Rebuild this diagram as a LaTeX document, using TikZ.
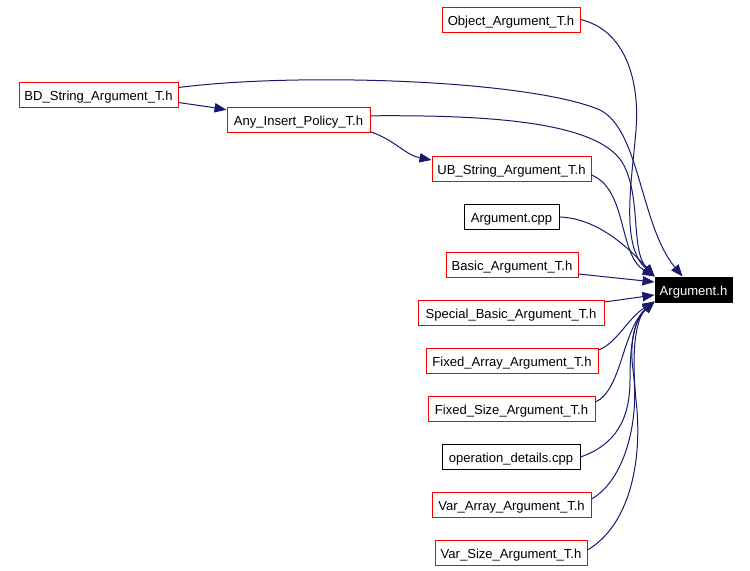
\documentclass[tikz,border=0pt]{standalone}
\usepackage{fontspec}
\setmainfont{Liberation Sans}
\usetikzlibrary{arrows.meta,calc}
\definecolor{edgeblue}{RGB}{25,25,112}
\begin{document}
\begin{tikzpicture}[x=0.75pt,y=-0.75pt,
  filebox/.style={draw=red,line width=0.75pt,minimum height=18.75pt,inner xsep=1pt,inner ysep=0pt,text height=10.3pt,text depth=2pt,font=\fontsize{9.8}{11}\selectfont,fill=white},
  srcbox/.style={filebox,draw=black},
  mainbox/.style={filebox,draw=black,fill=black,text=white},
  dep/.style={draw=edgeblue,line width=0.75pt,-{Triangle[length=9pt,width=7pt]}}]
\useasboundingbox[fill=white] (0,0) rectangle (750,571);
\node[filebox,minimum width=103.5pt] (obj) at (511,19.5) {Object\_Argument\_T.h};
\node[filebox,minimum width=119.25pt] (bd) at (98.5,94.5) {BD\_String\_Argument\_T.h};
\node[filebox,minimum width=107.25pt] (any) at (298.5,119.8) {Any\_Insert\_Policy\_T.h};
\node[filebox,minimum width=119.25pt] (ub) at (511.5,169) {UB\_String\_Argument\_T.h};
\node[srcbox,minimum width=71.25pt] (cpp) at (511.5,217) {Argument.cpp};
\node[filebox,minimum width=99pt] (basic) at (512,265) {Basic\_Argument\_T.h};
\node[filebox,minimum width=139.5pt] (special) at (511,313) {Special\_Basic\_Argument\_T.h};
\node[filebox,minimum width=129pt] (fa) at (512,361) {Fixed\_Array\_Argument\_T.h};
\node[filebox,minimum width=125.25pt] (fs) at (511.5,409) {Fixed\_Size\_Argument\_T.h};
\node[srcbox,minimum width=103.5pt] (od) at (511,457) {operation\_details.cpp};
\node[filebox,minimum width=119.25pt] (va) at (511.5,505) {Var\_Array\_Argument\_T.h};
\node[filebox,minimum width=114pt] (vs) at (511,553) {Var\_Size\_Argument\_T.h};
\node[mainbox,minimum width=57.75pt] (ah) at (693.5,289.5) {Argument.h};
% edges
\draw[dep] (obj.east) .. controls (625,30) and (640,80) .. (636,130) .. controls (632,180) and (620,245) .. (ah.north west);
\draw[dep] ($(bd.east)+(0,-7)$) .. controls (300,72) and (530,80) .. (600,110) .. controls (640,130) and (640,225) .. ($(ah.north west)+(28,0)$);
\draw[dep] ($(bd.east)+(0,8)$) .. controls (195,105) and (210,107) .. ($(any.west)+(0,-10)$);
\draw[dep] ($(any.east)+(0,-4)$) .. controls (480,115) and (595,120) .. (622,162) .. controls (642,195) and (630,250) .. (ah.north west);
\draw[dep] ($(any.east)+(0,12)$) .. controls (395,140) and (405,155) .. ($(ub.west)+(0,-9)$);
\draw[dep] ($(ub.east)+(0,6)$) .. controls (628,190) and (618,255) .. (ah.north west);
\draw[dep] (cpp.east) .. controls (592,218) and (622,240) .. (ah.north west);
\draw[dep] ($(basic.east)+(0,9)$) -- ($(ah.west)+(0,-7.5)$);
\draw[dep] ($(special.east)+(0,-11)$) -- ($(ah.west)+(0,5.5)$);
\draw[dep] ($(fa.north east)+(0,2)$) .. controls (617,343) and (628,318) .. ($(ah.south west)+(0,-1)$);
\draw[dep] ($(fs.east)+(0,-7)$) .. controls (622,390) and (622,330) .. ($(ah.south west)+(0,-1)$);
\draw[dep] (od.east) .. controls (615,445) and (630,420) .. (630,380) .. controls (630,340) and (635,318) .. ($(ah.south west)+(0,-1)$);
\draw[dep] ($(va.east)+(0,-6)$) .. controls (625,480) and (640,420) .. (633,370) .. controls (629,340) and (636,318) .. ($(ah.south west)+(0,-1)$);
\draw[dep] ($(vs.east)+(0,-3)$) .. controls (630,525) and (643,460) .. (636,400) .. controls (631,350) and (636,318) .. ($(ah.south west)+(0,-1)$);
\end{tikzpicture}
\end{document}
